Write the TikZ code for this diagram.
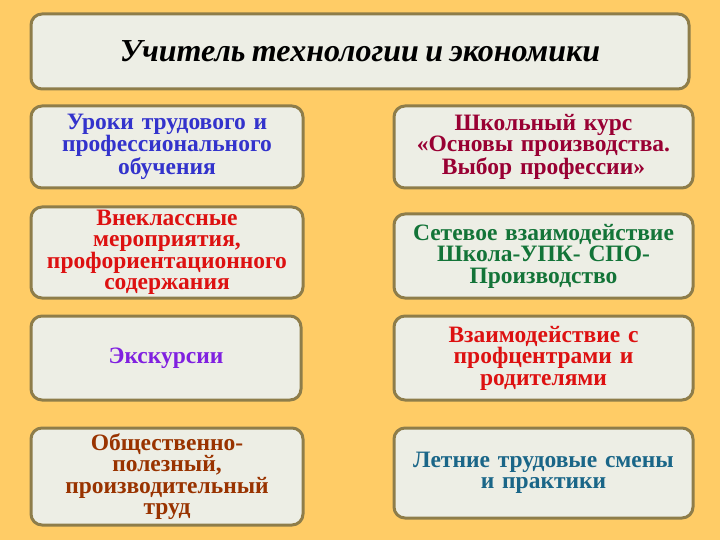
\documentclass[tikz,border=0pt]{standalone}
\usepackage{fontspec}
\setmainfont{Liberation Serif}[WordSpace=0.8]
\usetikzlibrary{positioning}

\definecolor{bgorange}{HTML}{FFCC66}
\definecolor{boxfill}{HTML}{EDEEE5}
\definecolor{boxline}{HTML}{8E7D4A}
\definecolor{txtblue}{HTML}{3333CC}
\definecolor{txtwine}{HTML}{990033}
\definecolor{txtred}{HTML}{DD1111}
\definecolor{txtgreen}{HTML}{137438}
\definecolor{txtviolet}{HTML}{8020E0}
\definecolor{txtbrown}{HTML}{993300}
\definecolor{txtteal}{HTML}{1A6688}

\begin{document}
\begin{tikzpicture}[
    x=1pt, y=-1pt,
    card/.style={rectangle, draw=boxline, line width=3pt, fill=boxfill, rounded corners=11pt,
        anchor=north west, inner sep=1pt, outer sep=0pt, align=center,
        font=\fontsize{23.5}{21.5}\selectfont\bfseries},
    leftcard/.style={card, minimum width=272pt, text width=268pt},
    rightcard/.style={card, minimum width=299pt, text width=295pt},
    headcard/.style={card, minimum width=658pt, minimum height=75pt,
        font=\fontsize{32}{34}\selectfont\bfseries\itshape}
]
    \fill[bgorange] (0,0) rectangle (720,540);
    \useasboundingbox (0,0) rectangle (720,540);

    \node[headcard] (head) at (31,14) {Учитель технологии и экономики};

    % left column
    \node[leftcard, minimum height=82pt, text=txtblue, below=17pt of head.south west, anchor=north west] (l1)
        {Уроки трудового и\\профессионального\\обучения};
    \node[leftcard, minimum height=91pt, text=txtred, below=19pt of l1.south west, anchor=north west] (l2)
        {Внеклассные\\мероприятия,\\профориентационного\\содержания};
    \node[leftcard, minimum height=84pt, minimum width=265pt, text=txtviolet, below=18pt of l2.south west, anchor=north west] (l3)
        {Экскурсии};
    \node[leftcard, minimum height=97pt, text=txtbrown, below=28pt of l3.south west, anchor=north west] (l4)
        {Общественно-\\полезный,\\производительный\\труд};

    % right column
    \node[rightcard, minimum height=82pt, text=txtwine, right=91pt of l1.north east, anchor=north west] (r1)
        {Школьный курс\\«Основы производства.\\Выбор профессии»};
    \node[rightcard, minimum height=84pt, text=txtgreen, below=26pt of r1.south west, anchor=north west] (r2)
        {Сетевое взаимодействие\\Школа-УПК- СПО-\\Производство};
    \node[rightcard, minimum height=84pt, text=txtred, below=18pt of r2.south west, anchor=north west] (r3)
        {Взаимодействие с\\профцентрами и\\родителями};
    \node[rightcard, minimum height=90pt, text=txtteal, below=28pt of r3.south west, anchor=north west] (r4)
        {Летние трудовые смены\\и практики};
\end{tikzpicture}
\end{document}
